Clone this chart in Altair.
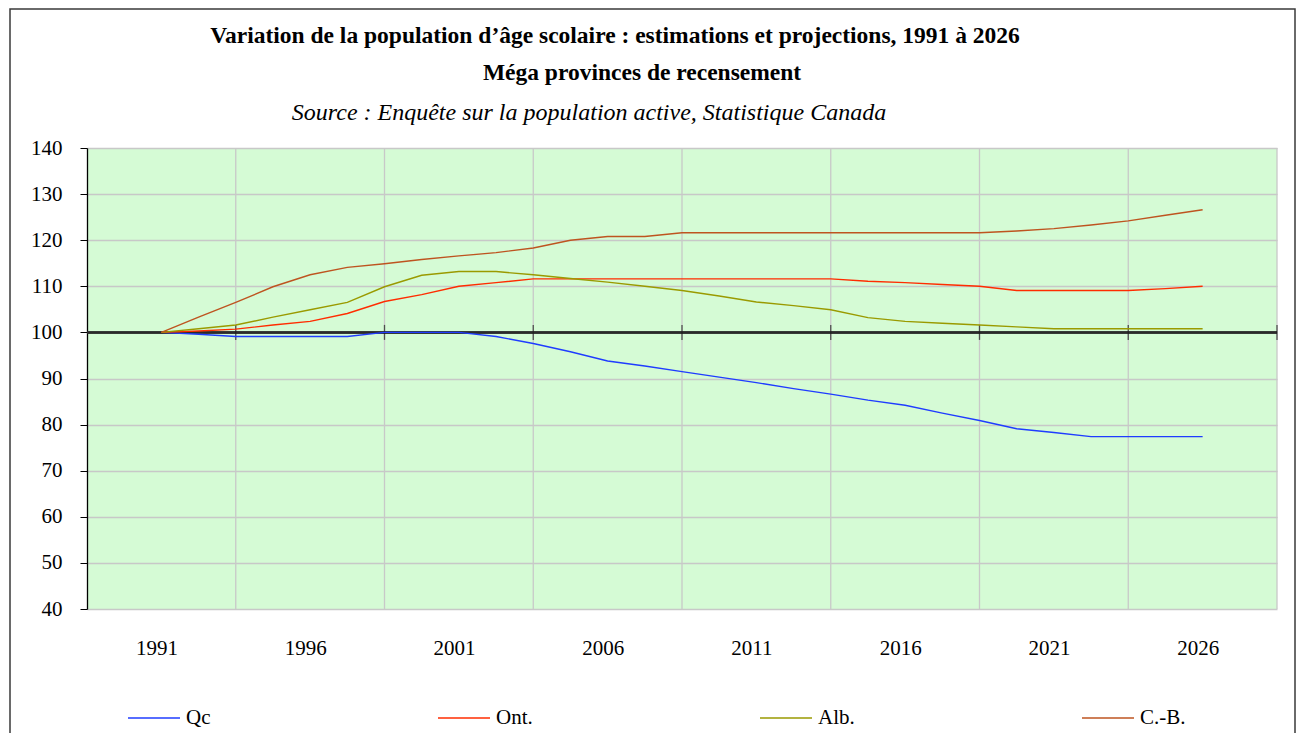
import altair as alt
import pandas as pd

# ---- data ----
year_labels = ["1991", "1996", "2001", "2006", "2011", "2016", "2021", "2026"]
series_names = ["Qc", "Ont.", "Alb.", "C.-B."]
series_colors = ["#1F3CFF", "#FF2C00", "#9A9A00", "#BE5420"]

qc = [100, 99.6, 99.1, 99.1, 99.1, 99.1, 100, 100, 100, 99.1, 97.6, 95.8, 93.8, 92.7, 91.5,
      90.3, 89.1, 87.8, 86.6, 85.3, 84.2, 82.5, 80.9, 79.1, 78.3, 77.4, 77.4, 77.4, 77.4]
ont = [100, 100.3, 100.7, 101.6, 102.4, 104.1, 106.7, 108.2, 110.0, 110.8, 111.6, 111.6, 111.6,
       111.6, 111.6, 111.6, 111.6, 111.6, 111.6, 111.1, 110.8, 110.4, 110.0, 109.1, 109.1, 109.1,
       109.1, 109.5, 110.0]
alb = [100, 100.8, 101.6, 103.3, 104.9, 106.5, 109.9, 112.4, 113.2, 113.2, 112.5, 111.7, 110.9,
       110.0, 109.1, 107.9, 106.6, 105.8, 104.9, 103.2, 102.4, 102.0, 101.6, 101.2, 100.8, 100.8,
       100.8, 100.8, 100.8]
cb = [100, 103.3, 106.5, 109.9, 112.5, 114.1, 114.9, 115.8, 116.6, 117.3, 118.3, 120.0, 120.8,
      120.8, 121.6, 121.6, 121.6, 121.6, 121.6, 121.6, 121.6, 121.6, 121.6, 122.0, 122.5, 123.3,
      124.2, 125.4, 126.6]

y_ticks = [40, 50, 60, 70, 80, 90, 100, 110, 120, 130, 140]
label_positions = [0, 4, 8, 12, 16, 20, 24, 28]
grid_positions = [2, 6, 10, 14, 18, 22, 26, 30]

title1 = "Variation de la population d’âge scolaire : estimations et projections, 1991 à 2026"
title2 = "Méga provinces de recensement"
title3 = "Source : Enquête sur la population active, Statistique Canada"

rows = []
for name, vals in zip(series_names, [qc, ont, alb, cb]):
    for i, v in enumerate(vals):
        rows.append({"i": i, "v": v, "serie": name})
df = pd.DataFrame(rows)

FONT = "Liberation Serif"
W, H = 1190, 461

label_expr = "[" + ",".join("'%s'" % s for s in year_labels) + "][datum.value / 4]"

xscale = alt.Scale(domain=[-2, 30], nice=False, zero=False)
yscale = alt.Scale(domain=[40, 140], nice=False, zero=False)

lines = alt.Chart(df).mark_line(strokeWidth=1.4).encode(
    x=alt.X("i:Q", scale=xscale,
            axis=alt.Axis(values=label_positions, labelExpr=label_expr, grid=False,
                          domain=False, ticks=False, tickSize=0, labelFont=FONT,
                          labelFontSize=21, labelColor="black", labelPadding=28,
                          labelOffset=-5, title=None, labelFlush=False)),
    y=alt.Y("v:Q", scale=yscale,
            axis=alt.Axis(values=y_ticks, grid=True, gridColor="#C8C8C8", gridWidth=1.3,
                          domainColor="black", domainWidth=1.3, tickColor="black",
                          tickSize=7, labelFont=FONT, labelFontSize=21,
                          labelColor="black", labelPadding=18, title=None)),
    color=alt.Color("serie:N",
                    scale=alt.Scale(domain=series_names, range=series_colors),
                    legend=alt.Legend(title=None, orient="none", legendX=40, legendY=543,
                                      direction="horizontal", symbolType="stroke",
                                      symbolSize=2704, symbolStrokeWidth=1.5,
                                      labelFont=FONT, labelFontSize=21, labelColor="black",
                                      labelOffset=5, columnPadding=224)),
    order="i:Q",
)

vgrid = alt.Chart(pd.DataFrame({"g": grid_positions})).mark_rule(
    color="#C8C8C8", strokeWidth=1.3).encode(x=alt.X("g:Q", scale=xscale))

base100 = alt.Chart(pd.DataFrame({"g": grid_positions})).mark_rule(
    color="#2A2A2A", strokeWidth=1.5).encode(y=alt.datum(100, scale=yscale))

cross_ticks = alt.Chart(pd.DataFrame({"g": grid_positions})).mark_tick(
    orient="vertical", size=15, thickness=1.3, color="#1A1A1A").encode(
    x=alt.X("g:Q", scale=xscale), y=alt.datum(100))

one = pd.DataFrame({"k": [0]})
border = alt.Chart(one).mark_rect(fill=None, stroke="#3A3A3A", strokeWidth=1.5).encode(
    x=alt.value(-77), x2=alt.value(1208), y=alt.value(-139), y2=alt.value(700))

t1 = alt.Chart(one).mark_text(font=FONT, fontSize=23.5, fontWeight="bold", color="black",
                              baseline="middle", align="center").encode(
    x=alt.value(528), y=alt.value(-112), text=alt.value(title1))
t2 = alt.Chart(one).mark_text(font=FONT, fontSize=23.5, fontWeight="bold", color="black",
                              baseline="middle", align="center").encode(
    x=alt.value(555), y=alt.value(-75), text=alt.value(title2))
t3 = alt.Chart(one).mark_text(font=FONT, fontSize=24, fontStyle="italic", color="black",
                              baseline="middle", align="center").encode(
    x=alt.value(502), y=alt.value(-35), text=alt.value(title3))

chart = alt.layer(vgrid, base100, cross_ticks, lines, border, t1, t2, t3).properties(
    width=W, height=H,
    autosize=alt.AutoSizeParams(type="none"),
    padding={"left": 79, "top": 140, "right": 19, "bottom": 124},
    background="white",
).configure_view(fill="#D5FBD5", stroke=None)

chart.save("out.html", embed_options={"renderer": "svg", "actions": False})
